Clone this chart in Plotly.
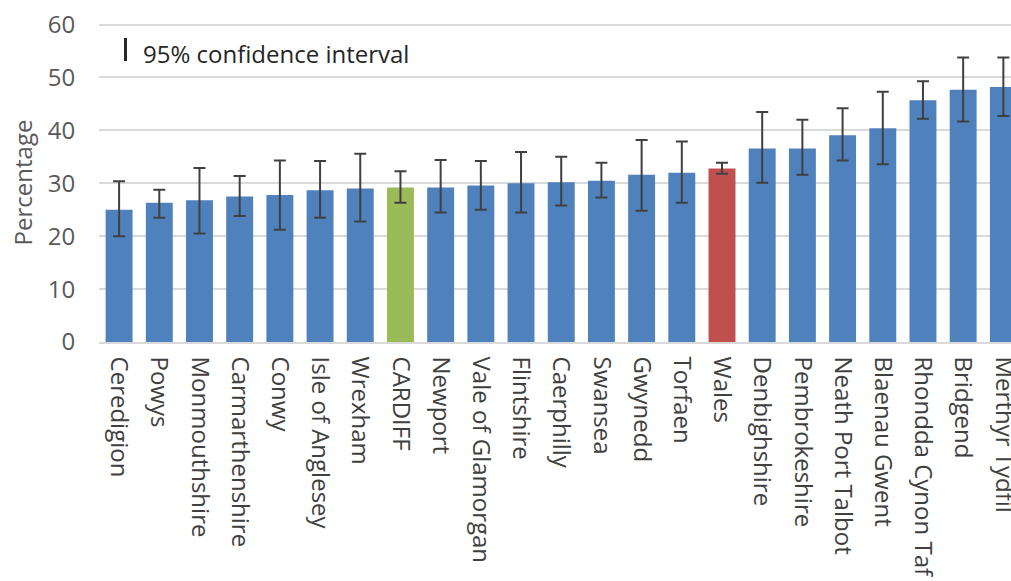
import plotly.graph_objects as go

areas = ["Ceredigion", "Powys", "Monmouthshire", "Carmarthenshire", "Conwy",
         "Isle of Anglesey", "Wrexham", "CARDIFF", "Newport", "Vale of Glamorgan",
         "Flintshire", "Caerphilly", "Swansea", "Gwynedd", "Torfaen", "Wales",
         "Denbighshire", "Pembrokeshire", "Neath Port Talbot", "Blaenau Gwent",
         "Rhondda Cynon Taf", "Bridgend", "Merthyr Tydfil"]
values = [25.0, 26.3, 26.8, 27.5, 27.8, 28.7, 29.0, 29.2, 29.2, 29.6, 30.0, 30.2,
          30.5, 31.6, 32.0, 32.8, 36.6, 36.6, 39.1, 40.4, 45.7, 47.7, 48.2]
ci_lower = [20.0, 23.5, 20.5, 23.8, 21.2, 23.5, 22.8, 26.3, 24.5, 25.0, 24.5, 25.8,
            27.3, 24.8, 26.3, 31.8, 30.1, 31.6, 34.3, 33.6, 42.2, 41.7, 42.7]
ci_upper = [30.4, 28.8, 32.9, 31.4, 34.3, 34.2, 35.6, 32.3, 34.4, 34.2, 35.9, 35.0,
            33.9, 38.2, 37.9, 33.9, 43.5, 42.0, 44.2, 47.3, 49.3, 53.8, 53.8]
y_ticks = [0, 10, 20, 30, 40, 50, 60]

BLUE, GREEN, RED = "#4F81BD", "#9BBB59", "#C0504D"
colors = [GREEN if a == "CARDIFF" else RED if a == "Wales" else BLUE for a in areas]

fig = go.Figure(go.Bar(
    x=list(range(len(areas))), y=values,
    marker=dict(color=colors, line=dict(width=0)),
    width=0.67,
    error_y=dict(type="data", symmetric=False,
                 array=[u - v for u, v in zip(ci_upper, values)],
                 arrayminus=[v - l for v, l in zip(values, ci_lower)],
                 color="#404040", thickness=2, width=6),
))

font = "Open Sans"
PLOT_H = 319.0
fig.update_layout(
    width=1011, height=581,
    margin=dict(l=99, r=0, t=23, b=239, autoexpand=False),
    plot_bgcolor="white", paper_bgcolor="white",
    showlegend=False,
    font=dict(family=font, color="#595959"),
    xaxis=dict(range=[-0.5, 22.19], tickmode="array", automargin=False,
               tickvals=list(range(len(areas))), ticktext=areas,
               ticklabeloverflow="allow",
               tickangle=90, tickfont=dict(size=24, color="#404040"),
               showgrid=False, showline=True, linecolor="#d9d9d9", linewidth=1.5,
               ticks="outside", ticklen=8, tickcolor="rgba(0,0,0,0)"),
    yaxis=dict(range=[0, 60.3], tickmode="array", tickvals=y_ticks,
               automargin=False, ticklabeloverflow="allow",
               tickfont=dict(size=24, color="#595959"),
               showgrid=True, gridcolor="#d9d9d9", gridwidth=1.5,
               zeroline=False, ticks="outside", ticklen=18, tickcolor="rgba(0,0,0,0)",
               title=dict(text="Percentage", font=dict(size=24, color="#595959"),
                          standoff=8)),
)

# legend key for the confidence interval (page px -> paper coords)
def py(px):
    return 1 - (px - 23) / PLOT_H

fig.add_shape(type="line", xref="paper", yref="paper",
              x0=26.5/912, x1=26.5/912, y0=py(61), y1=py(38),
              line=dict(color="#262626", width=3))
fig.add_annotation(text="95% confidence interval", xref="paper", yref="paper",
                   x=42/912, y=py(53), xanchor="left", yanchor="middle",
                   showarrow=False, font=dict(size=24, color="#262626", family=font))

fig.write_html("out.html", config={"displayModeBar": False},
               post_script="document.body.style.margin='0';document.body.style.overflow='hidden';")
